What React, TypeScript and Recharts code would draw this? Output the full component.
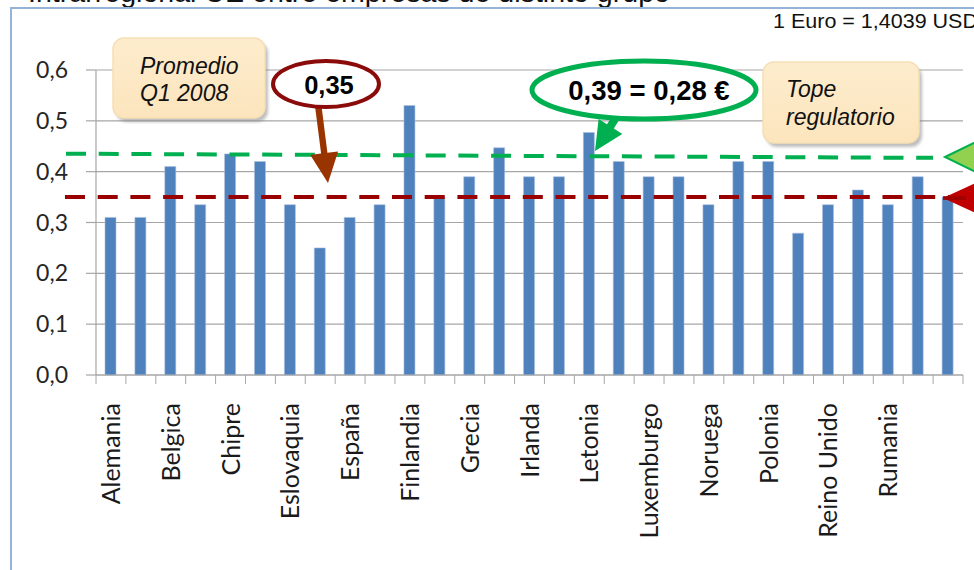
import React from 'react';
import { BarChart, Bar, XAxis, YAxis, CartesianGrid, ReferenceLine } from 'recharts';

const categories = [
  'Alemania', 'Austria', 'Belgica', 'Bulgaria', 'Chipre', 'Dinamarca', 'Eslovaquia', 'Eslovenia',
  'España', 'Estonia', 'Finlandia', 'Francia', 'Grecia', 'Hungría', 'Irlanda', 'Italia', 'Letonia',
  'Lituania', 'Luxemburgo', 'Malta', 'Noruega', 'Países Bajos', 'Polonia', 'Portugal', 'Reino Unido',
  'República Checa', 'Rumania', 'Suecia', 'Suiza',
];
const values = [
  0.31, 0.31, 0.41, 0.335, 0.435, 0.42, 0.335, 0.25,
  0.31, 0.335, 0.53, 0.35, 0.39, 0.447, 0.39, 0.39, 0.477,
  0.42, 0.39, 0.39, 0.335, 0.42, 0.42, 0.279, 0.335,
  0.364, 0.335, 0.39, 0.35,
];
const yTicks = [0, 0.1, 0.2, 0.3, 0.4, 0.5, 0.6];
const averageValue = 0.35;
const capStart = 0.435;
const capEnd = 0.427;

const title = 'Intrarregional UE entre empresas de distinto grupo';
const rateNote = '1 Euro = 1,4039 USD';
const avgBoxLines = ['Promedio', 'Q1 2008'];
const avgBubble = '0,35';
const capBubble = '0,39 = 0,28 €';
const capBoxLines = ['Tope', 'regulatorio'];

const data = categories.map((name, i) => ({ name, value: values[i] }));

const W = 974;
const H = 570;
const MARGIN = { top: 70, right: 11, bottom: 0, left: 0 };
const Y_AXIS_W = 96;
const X_AXIS_H = 195;
const BAND = (W - MARGIN.right - Y_AXIS_W - MARGIN.left) / categories.length;
const GRID = '#a6a6a6';
const AXIS_FONT = 'Lato, "Open Sans", sans-serif';
const ANNOT_FONT = '"Liberation Sans", Arial, sans-serif';

const fmt = (v: number) => v.toFixed(1).replace('.', ',');

const XTick = (props: any) => {
  const { x, y, payload, index } = props;
  const axisY = H - MARGIN.bottom - X_AXIS_H;
  const idx = typeof index === 'number' ? index : payload?.index ?? 0;
  const last = categories.length - 1;
  return (
    <g>
      <line x1={x - BAND / 2} x2={x - BAND / 2} y1={axisY} y2={axisY + 9} stroke={GRID} strokeWidth={1} />
      {idx === last && (
        <line x1={x + BAND / 2} x2={x + BAND / 2} y1={axisY} y2={axisY + 9} stroke={GRID} strokeWidth={1} />
      )}
      {idx % 2 === 0 && idx < last && (
        <text
          x={x}
          y={y}
          dy="0.36em"
          transform={`rotate(-90, ${x}, ${y})`}
          textAnchor="end"
          fontFamily={AXIS_FONT}
          fontSize={25}
          fill="#1a1a1a"
        >
          {payload.value}
        </text>
      )}
    </g>
  );
};

const extendedDash = (fromX: number, toX: number, color: string) => (props: any) => {
  const { x1, y1, x2, y2 } = props;
  const dx = x2 - x1 || 1;
  const f = (X: number) => y1 + ((y2 - y1) * (X - x1)) / dx;
  return (
    <line
      x1={fromX}
      y1={f(fromX)}
      x2={toX}
      y2={f(toX)}
      stroke={color}
      strokeWidth={4}
      strokeDasharray="20 12.7"
    />
  );
};

function arrowPoints(x1: number, y1: number, x2: number, y2: number, headLen: number, headHalf: number, shaftHalf: number) {
  const dx = x2 - x1;
  const dy = y2 - y1;
  const len = Math.hypot(dx, dy);
  const ux = dx / len;
  const uy = dy / len;
  const px = -uy;
  const py = ux;
  const bx = x2 - ux * headLen;
  const by = y2 - uy * headLen;
  const pts = [
    [x1 + px * shaftHalf, y1 + py * shaftHalf],
    [bx + px * shaftHalf, by + py * shaftHalf],
    [bx + px * headHalf, by + py * headHalf],
    [x2, y2],
    [bx - px * headHalf, by - py * headHalf],
    [bx - px * shaftHalf, by - py * shaftHalf],
    [x1 - px * shaftHalf, y1 - py * shaftHalf],
  ];
  return pts.map((p) => `${p[0].toFixed(1)},${p[1].toFixed(1)}`).join(' ');
}

const NoteBox = ({ x, y, w, h, lines, tx, ty, lh }: any) => (
  <g>
    <rect x={x + 3} y={y + 4} width={w} height={h} rx={11} fill="#7f7f7f" opacity={0.5} filter="url(#blur)" />
    <rect x={x} y={y} width={w} height={h} rx={11} fill="url(#boxGrad)" stroke="#f6dfb4" strokeWidth={1.5} />
    {lines.map((t: string, i: number) => (
      <text key={i} x={tx} y={ty + i * lh} fontFamily={ANNOT_FONT} fontStyle="italic" fontSize={23} fill="#111">
        {t}
      </text>
    ))}
  </g>
);

export default function App() {
  return (
    <div style={{ position: 'absolute', left: 0, top: 0, width: W, height: H, background: '#fff', overflow: 'hidden' }}>
      <BarChart width={W} height={H} data={data} margin={MARGIN} barCategoryGap="20%">
        <CartesianGrid vertical={false} stroke={GRID} strokeWidth={1.2} />
        <XAxis
          dataKey="name"
          interval={0}
          height={X_AXIS_H}
          tickSize={0}
          tickMargin={28}
          tickLine={false}
          axisLine={{ stroke: GRID, strokeWidth: 1.2 }}
          tick={<XTick />}
        />
        <YAxis
          width={Y_AXIS_W}
          domain={[0, 0.6]}
          ticks={yTicks}
          tickFormatter={fmt}
          tickSize={10}
          tickMargin={18}
          axisLine={{ stroke: GRID, strokeWidth: 1.2 }}
          tickLine={{ stroke: GRID, strokeWidth: 1.2 }}
          tick={{ fill: '#262626', fontSize: 23, fontFamily: AXIS_FONT }}
        />
        <Bar dataKey="value" fill="#4f81bd" stroke="#a9c0dd" strokeWidth={0.6} barSize={11} isAnimationActive={false} />
        <ReferenceLine
          segment={[
            { x: categories[0], y: capStart },
            { x: categories[categories.length - 1], y: capEnd },
          ]}
          ifOverflow="visible"
          shape={extendedDash(66, 933, '#00b050')}
        />
        <ReferenceLine y={averageValue} ifOverflow="visible" shape={extendedDash(65, 966, '#990000')} />
      </BarChart>

      <svg width={W} height={H} style={{ position: 'absolute', left: 0, top: 0, pointerEvents: 'none' }}>
        <defs>
          <linearGradient id="boxGrad" x1="0" y1="0" x2="0" y2="1">
            <stop offset="0" stopColor="#fdeccd" />
            <stop offset="1" stopColor="#fce5bd" />
          </linearGradient>
          <filter id="blur" x="-10%" y="-10%" width="120%" height="130%">
            <feGaussianBlur stdDeviation="1.5" />
          </filter>
        </defs>

        <text x={28} y={1.5} fontFamily={ANNOT_FONT} fontSize={28} textLength={642} lengthAdjust="spacingAndGlyphs" fill="#111">
          {title}
        </text>
        <rect x={11} y={8} width={1000} height={600} fill="none" stroke="#95b3d7" strokeWidth={2} />
        <text x={773} y={28} fontFamily={ANNOT_FONT} fontSize={20} textLength={205} lengthAdjust="spacingAndGlyphs" fill="#111">
          {rateNote}
        </text>

        <NoteBox x={113} y={38} w={152} h={80} lines={avgBoxLines} tx={140} ty={74} lh={27} />
        <NoteBox x={763} y={62} w={156} h={81} lines={capBoxLines} tx={786} ty={97} lh={28} />

        <polygon points={arrowPoints(318, 104, 328, 183, 30, 14, 3.2)} fill="#993300" />
        <ellipse cx={326} cy={84} rx={53} ry={23} fill="#fff" stroke="#8b0a0a" strokeWidth={4} />
        <text x={329} y={94} textAnchor="middle" fontFamily={ANNOT_FONT} fontWeight="bold" fontSize={25.5} fill="#000">
          {avgBubble}
        </text>

        <polygon points={arrowPoints(622, 108, 595, 151, 29, 14, 4)} fill="#00b050" />
        <ellipse cx={644} cy={90} rx={112} ry={29} fill="#fff" stroke="#00b050" strokeWidth={5} />
        <text x={649} y={100} textAnchor="middle" fontFamily={ANNOT_FONT} fontWeight="bold" fontSize={27.5} fill="#000">
          {capBubble}
        </text>

        <polygon points="945,157 982,139 982,175" fill="#92d050" stroke="#00b050" strokeWidth={2} />
        <polygon points="943,198 982,180 982,216" fill="#c00000" />
        <line x1={943} y1={198} x2={966} y2={198} stroke="#990000" strokeWidth={4} opacity={0.8} />
      </svg>
    </div>
  );
}
